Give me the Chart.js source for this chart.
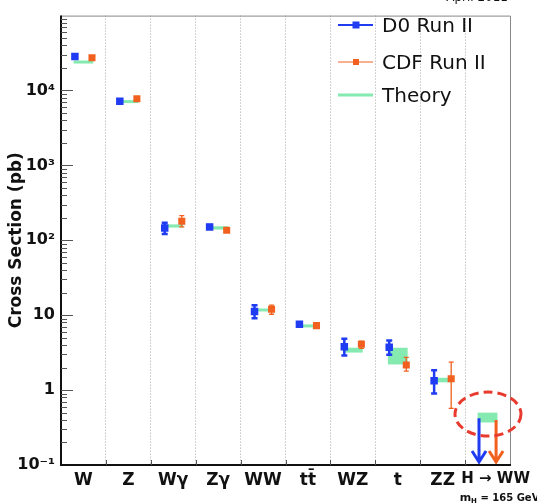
<!DOCTYPE html>
<html>
<head>
<meta charset="utf-8">
<title>Cross sections</title>
<script src="https://cdn.jsdelivr.net/npm/chart.js@4/dist/chart.umd.min.js"></script>
<style>
  body{margin:0;background:#fff;}
  canvas{display:block;}
</style>
</head>
<body>
<canvas id="xsec" width="537" height="504"></canvas>
<script>
// processes along the x axis
const processes = ["W","Z","Wγ","Zγ","WW","tt\u0304","WZ","t","ZZ","H → WW"];

// D0 Run II measurements (pb) and error range
const d0Val = [28400, 7180, 146, 151, 11.2, 7.56, 3.79, 3.72, 1.33, null];
const d0Lo  = [28400, 7180, 121, 143, 9.1, 7.2, 2.9, 2.97, 0.9, null];
const d0Hi  = [28400, 7180, 171, 160, 13.6, 7.9, 4.86, 4.58, 1.84, null];

// CDF Run II measurements (pb) and error range
const cdfVal = [27400, 7780, 180, 136, 12.0, 7.26, 4.1, 2.16, 1.42, null];
const cdfLo  = [27400, 7780, 151, 130, 10.3, 7.0, 3.6, 1.79, 0.57, null];
const cdfHi  = [27400, 7780, 214, 142, 13.6, 7.6, 4.5, 2.73, 2.37, null];

// theory prediction band (pb)
const thLo = [23300, 6900, 148, 139, 11.3, 6.9, 3.17, 2.2, 1.27, 0.37];
const thHi = [24700, 7330, 163, 154, 12.2, 7.5, 3.68, 3.68, 1.46, 0.5];

// H -> WW upper limits (pb)
const d0Limit = 0.42;
const cdfLimit = 0.40;

const seriesNames = ["D0 Run II", "CDF Run II", "Theory"];
const yTicks = [0.1, 1, 10, 100, 1000, 10000];
const yTickText = ["10⁻¹", "1", "10", "10²", "10³", "10⁴"];

const BLUE = "#1f3cf2", ORANGE = "#f2601f", GREEN = "#84eab0";
const D0_DX = -0.19, CDF_DX = 0.19, BAND_HALF = 0.22;
const FONT = "DejaVu Sans";

function pts(vals, dx) {
  return vals.map((v,i)=> v==null ? null : {x:i+0.5+dx, y:v}).filter(Boolean);
}

// x ticks: separators at integers, names at the column centres
const xTickList = [];
for (let i=0;i<=10;i++) {
  xTickList.push({value:i, label:""});
  if (i<10) xTickList.push({value: i===9 ? 9.68 : i+0.5, label: processes[i]});
}

function errBars(ctx, x, y, lo, hi, dx, color, lw, cap) {
  ctx.strokeStyle = color;
  ctx.lineWidth = lw;
  lo.forEach((l,i)=>{
    if (l==null || l===hi[i]) return;
    const px = x.getPixelForValue(i+0.5+dx);
    const y0 = y.getPixelForValue(hi[i]), y1 = y.getPixelForValue(l);
    ctx.beginPath();
    ctx.moveTo(px,y0); ctx.lineTo(px,y1);
    ctx.moveTo(px-cap,y0); ctx.lineTo(px+cap,y0);
    ctx.moveTo(px-cap,y1); ctx.lineTo(px+cap,y1);
    ctx.stroke();
  });
}

function limitArrow(ctx, x, y, xv, limit, color) {
  const px = x.getPixelForValue(xv);
  const y0 = y.getPixelForValue(limit), y1 = y.getPixelForValue(0.1) - 3;
  ctx.strokeStyle = color;
  ctx.lineWidth = 3;
  ctx.beginPath();
  ctx.moveTo(px,y0); ctx.lineTo(px,y1);
  ctx.moveTo(px-7,y1-11); ctx.lineTo(px,y1); ctx.lineTo(px+7,y1-11);
  ctx.stroke();
}

const decor = {
  id: "decor",
  beforeDatasetsDraw(chart) {
    const {ctx, scales:{x,y}} = chart;
    ctx.save();
    // theory bands
    ctx.fillStyle = GREEN;
    thLo.forEach((lo,i)=>{
      const x0 = x.getPixelForValue(i+0.5-BAND_HALF), x1 = x.getPixelForValue(i+0.5+BAND_HALF);
      let y0 = y.getPixelForValue(thHi[i]), y1 = y.getPixelForValue(lo);
      if (y1-y0 < 3) { const m=(y0+y1)/2; y0=m-1.5; y1=m+1.5; }
      ctx.fillRect(x0, y0, x1-x0, y1-y0);
    });
    errBars(ctx, x, y, d0Lo, d0Hi, D0_DX, BLUE, 2.5, 3);
    errBars(ctx, x, y, cdfLo, cdfHi, CDF_DX, ORANGE, 1.3, 2.5);
    limitArrow(ctx, x, y, 9.5+D0_DX, d0Limit, BLUE);
    limitArrow(ctx, x, y, 9.5+CDF_DX, cdfLimit, ORANGE);
    ctx.restore();
  },
  afterDraw(chart) {
    const {ctx, chartArea:a, scales:{x,y}} = chart;
    ctx.save();
    // frame
    ctx.strokeStyle = "#888"; ctx.lineWidth = 1;
    ctx.beginPath();
    ctx.moveTo(a.left, a.top+0.5); ctx.lineTo(a.right+0.5, a.top+0.5); ctx.lineTo(a.right+0.5, a.bottom);
    ctx.stroke();
    ctx.strokeStyle = "#111"; ctx.lineWidth = 2;
    ctx.beginPath();
    ctx.moveTo(a.left, a.top); ctx.lineTo(a.left, a.bottom); ctx.lineTo(a.right+1, a.bottom);
    ctx.stroke();

    // y ticks drawn inside the frame
    ctx.strokeStyle = "#555"; ctx.lineWidth = 1;
    ctx.beginPath();
    for (let d=-1; d<=4; d++) {
      for (let m=1; m<=9; m++) {
        const v = m*Math.pow(10,d);
        if (v<=0.1) continue;
        const py = Math.round(y.getPixelForValue(v))+0.5;
        ctx.moveTo(a.left, py); ctx.lineTo(a.left + (m===1 ? 12 : 6), py);
      }
    }
    // x ticks at the separators
    for (let i=1;i<10;i++) {
      const px = Math.round(x.getPixelForValue(i))+0.5;
      ctx.moveTo(px, a.bottom); ctx.lineTo(px, a.bottom-5);
    }
    ctx.stroke();

    // legend
    const rows = [
      {color:BLUE, lw:2, box:7, yy:25},
      {color:ORANGE, lw:1, box:6, yy:62},
      {color:GREEN, lw:3, box:0, yy:95}
    ];
    rows.forEach((r,i)=>{
      ctx.strokeStyle = r.color; ctx.lineWidth = r.lw;
      ctx.beginPath(); ctx.moveTo(338, r.yy); ctx.lineTo(373, r.yy); ctx.stroke();
      if (r.box) { ctx.fillStyle = r.color; ctx.fillRect(356-r.box/2, r.yy-r.box/2, r.box, r.box); }
      ctx.fillStyle = "#111";
      ctx.font = "20px " + FONT;
      ctx.textBaseline = "middle"; ctx.textAlign = "left";
      ctx.fillText(seriesNames[i], 382, r.yy+2);
    });

    // highlight around the Higgs limit
    ctx.strokeStyle = "#e83a2e"; ctx.lineWidth = 3; ctx.setLineDash([9,5]);
    ctx.beginPath();
    ctx.ellipse(x.getPixelForValue(9.51), y.getPixelForValue(0.478), 33, 22, 0, 0, Math.PI*2);
    ctx.stroke();
    ctx.setLineDash([]);

    // Higgs mass note
    ctx.fillStyle = "#111"; ctx.textBaseline = "alphabetic"; ctx.textAlign = "left";
    let tx = x.getPixelForValue(9.68) - 36;
    ctx.font = "bold 11px " + FONT; ctx.fillText("m", tx, 501); tx += ctx.measureText("m").width;
    ctx.font = "bold 7px " + FONT; ctx.fillText("H", tx, 503); tx += ctx.measureText("H").width;
    ctx.font = "bold 10px " + FONT; ctx.fillText(" = 165 GeV", tx, 501);

    // date stamp
    ctx.font = "12px " + FONT; ctx.textAlign = "right";
    ctx.fillText("April 2011", 508, 1);
    ctx.restore();
  }
};

new Chart(document.getElementById("xsec"), {
  type: "scatter",
  data: {
    datasets: [
      {label: seriesNames[0], data: pts(d0Val, D0_DX), backgroundColor: BLUE, borderColor: BLUE,
       pointStyle: "rect", pointRadius: 5.3, pointHoverRadius: 5.3, borderWidth: 0},
      {label: seriesNames[1], data: pts(cdfVal, CDF_DX), backgroundColor: ORANGE, borderColor: ORANGE,
       pointStyle: "rect", pointRadius: 5, pointHoverRadius: 5, borderWidth: 0}
    ]
  },
  options: {
    responsive: false,
    animation: false,
    devicePixelRatio: 1,
    layout: {padding: {left: 0, right: 27, top: 4, bottom: 0}},
    plugins: {legend: {display: false}, tooltip: {enabled: false}},
    scales: {
      x: {
        type: "linear", min: 0, max: 10,
        afterBuildTicks: s => { s.ticks = xTickList.map(t=>({value:t.value})); },
        afterFit: s => { s.height = 39; },
        ticks: {
          autoSkip: false, maxRotation: 0, minRotation: 0, padding: 5, color: "#111",
          callback: (v,i) => xTickList[i] ? xTickList[i].label : "",
          font: c => ({family: FONT, weight: "bold", size: c.tick && c.tick.value > 9.6 ? 15 : 17})
        },
        grid: {
          drawTicks: false, lineWidth: 1, borderDash: [1,2],
          color: c => (c.tick && Number.isInteger(c.tick.value) && c.tick.value > 0 && c.tick.value < 10) ? "#a8a8a8" : "rgba(0,0,0,0)"
        },
        border: {display: false, dash: [1,2]}
      },
      y: {
        type: "logarithmic", min: 0.1, max: 100000,
        afterBuildTicks: s => { s.ticks = yTicks.map(v=>({value:v})); },
        afterFit: s => { s.width = 61; },
        ticks: {
          autoSkip: false, padding: 6, color: "#111",
          callback: (v,i) => yTickText[i],
          font: {family: FONT, weight: "bold", size: 16}
        },
        grid: {display: false, drawTicks: false},
        border: {display: false},
        title: {
          display: true, text: "Cross Section (pb)", color: "#111",
          font: {family: FONT, weight: "bold", size: 17},
          padding: {top: 6, bottom: 0}
        }
      }
    }
  },
  plugins: [decor]
});
</script>
</body>
</html>
